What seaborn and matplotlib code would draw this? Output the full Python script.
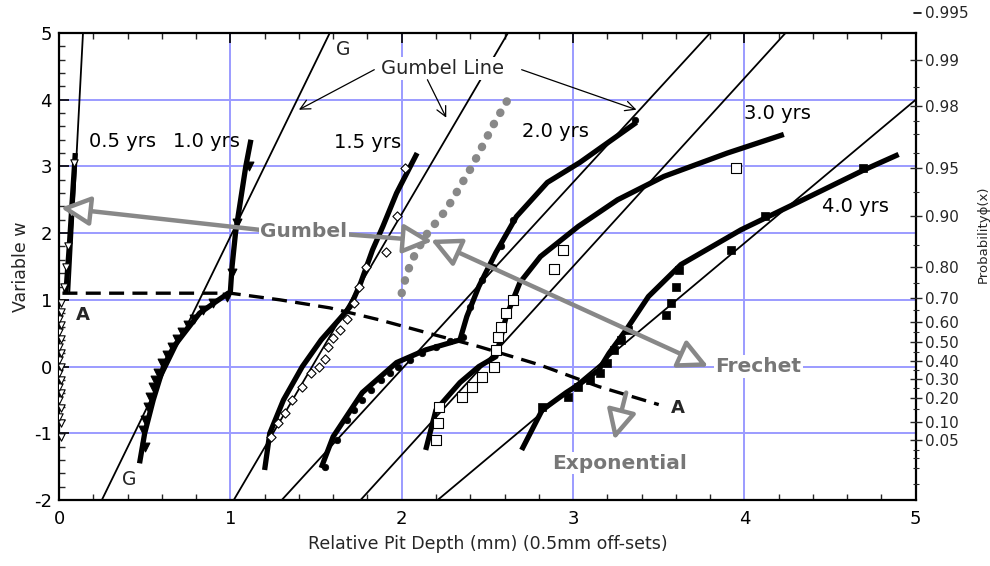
import numpy as np
import pandas as pd
import matplotlib
matplotlib.use("Agg")
import matplotlib.pyplot as plt
import matplotlib.transforms as mtransforms
from matplotlib.ticker import MultipleLocator, FixedLocator
import seaborn as sns

# ---------------- data ----------------
# 0.5 yrs (hollow down-triangles)
x05 = [0.01, 0.01, 0.00, 0.01, 0.00, 0.01, 0.00, 0.01, 0.00, 0.01, 0.00, 0.01,
       0.00, 0.01, 0.00, 0.01, 0.00, 0.01, 0.01, 0.03, 0.04, 0.05, 0.07, 0.09]
y05 = [-1.05, -0.85, -0.75, -0.62, -0.50, -0.40, -0.30, -0.20, -0.10, 0.00, 0.10, 0.20,
       0.30, 0.42, 0.52, 0.62, 0.72, 0.82, 0.95, 1.20, 1.50, 1.80, 2.30, 3.05]
x05c = [0.04, 0.06, 0.08, 0.095]
y05c = [1.10, 1.80, 2.60, 3.20]

# 1.0 yrs (filled down-triangles)
x10 = [0.50, 0.49, 0.50, 0.52, 0.53, 0.55, 0.56, 0.58, 0.60, 0.63, 0.66, 0.69,
       0.72, 0.75, 0.79, 0.84, 0.90, 0.98, 1.01, 1.04, 1.11]
y10 = [-1.20, -0.95, -0.80, -0.60, -0.45, -0.30, -0.20, -0.10, 0.05, 0.18, 0.30, 0.42,
       0.52, 0.62, 0.72, 0.85, 0.95, 1.05, 1.40, 2.15, 3.00]
x10c = [0.47, 0.50, 0.55, 0.61, 0.67, 0.73, 0.82, 0.92, 1.00, 1.01, 1.03, 1.06, 1.09, 1.12]
y10c = [-1.45, -1.00, -0.50, 0.00, 0.30, 0.50, 0.80, 0.98, 1.12, 1.50, 2.00, 2.50, 3.00, 3.40]

# 1.5 yrs (hollow diamonds)
x15 = [1.24, 1.28, 1.32, 1.36, 1.42, 1.47, 1.52, 1.55, 1.57, 1.60, 1.64, 1.68,
       1.72, 1.75, 1.79, 1.91, 1.97, 2.02]
y15 = [-1.05, -0.85, -0.70, -0.50, -0.30, -0.10, 0.00, 0.12, 0.30, 0.43, 0.55, 0.72,
       0.95, 1.20, 1.50, 1.72, 2.25, 2.98]
x15c = [1.20, 1.23, 1.31, 1.42, 1.53, 1.64, 1.70, 1.76, 1.83, 1.89, 1.97, 2.09]
y15c = [-1.55, -1.00, -0.50, 0.00, 0.40, 0.72, 0.90, 1.25, 1.75, 2.10, 2.60, 3.20]

# 2.0 yrs (filled small circles)
x20 = [1.55, 1.62, 1.68, 1.72, 1.77, 1.82, 1.88, 1.93, 1.98, 2.05, 2.12, 2.20,
       2.28, 2.36, 2.40, 2.47, 2.53, 2.58, 2.65, 3.36]
y20 = [-1.50, -1.10, -0.80, -0.65, -0.50, -0.35, -0.20, -0.10, 0.00, 0.10, 0.20, 0.30,
       0.38, 0.45, 0.90, 1.30, 1.50, 1.80, 2.20, 3.70]
x20c = [1.53, 1.60, 1.77, 1.97, 2.14, 2.34, 2.38, 2.45, 2.55, 2.67, 2.85, 3.04, 3.37]
y20c = [-1.52, -1.05, -0.39, 0.06, 0.25, 0.40, 0.75, 1.20, 1.71, 2.25, 2.76, 3.06, 3.66]

# 3.0 yrs (hollow squares)
x30 = [2.20, 2.21, 2.22, 2.35, 2.41, 2.47, 2.54, 2.55, 2.56, 2.58, 2.61, 2.65,
       2.89, 2.94, 3.95]
y30 = [-1.10, -0.85, -0.60, -0.45, -0.30, -0.15, 0.00, 0.25, 0.45, 0.60, 0.80, 1.00,
       1.46, 1.75, 2.98]
x30c = [2.14, 2.20, 2.34, 2.45, 2.55, 2.61, 2.69, 2.81, 3.03, 3.26, 3.53, 3.90, 4.23]
y30c = [-1.25, -0.65, -0.24, 0.00, 0.15, 0.75, 1.26, 1.65, 2.10, 2.50, 2.85, 3.20, 3.48]

# 4.0 yrs (filled squares)
x40 = [2.82, 2.97, 3.03, 3.10, 3.16, 3.20, 3.24, 3.28, 3.32, 3.54, 3.57, 3.60,
       3.62, 3.92, 4.12, 4.69]
y40 = [-0.60, -0.45, -0.30, -0.20, -0.10, 0.05, 0.25, 0.40, 0.55, 0.78, 0.96, 1.20,
       1.45, 1.75, 2.25, 2.98]
x40c = [2.70, 2.82, 2.96, 3.05, 3.15, 3.21, 3.31, 3.44, 3.63, 3.98, 4.31, 4.70, 4.90]
y40c = [-1.25, -0.65, -0.39, -0.24, -0.05, 0.20, 0.55, 1.05, 1.53, 2.05, 2.46, 2.95, 3.18]

# Gumbel straight lines (end points)
gumbel_x = {"0.5": [0.06, 0.14], "1.0": [0.25, 1.58], "1.5": [1.02, 2.62],
            "2.0": [1.30, 3.80], "3.0": [1.76, 4.24], "4.0": [2.21, 5.00]}
gumbel_y = {"0.5": [1.10, 5.00], "1.0": [-2.0, 5.0], "1.5": [-2.0, 5.0],
            "2.0": [-2.0, 5.0], "3.0": [-2.0, 5.0], "4.0": [-2.0, 4.0]}

# dashed line A-A
xA = [0.02, 1.00, 1.29, 1.58, 1.87, 2.20, 2.45, 2.80, 3.15, 3.50]
yA = [1.10, 1.10, 1.00, 0.88, 0.70, 0.47, 0.30, 0.03, -0.30, -0.57]

# grey dotted line
xdot = [2.00, 2.03, 2.08, 2.15, 2.26, 2.41, 2.53, 2.63]
ydot = [1.10, 1.40, 1.70, 2.00, 2.35, 3.00, 3.60, 4.05]

# right-axis probability labels
prob_labels = ["0.99", "0.98", "0.95", "0.90", "0.80", "0.70", "0.60", "0.50",
               "0.40", "0.30", "0.20", "0.10", "0.05"]
prob_minor = [0.003, 0.01, 0.02, 0.03, 0.15, 0.25, 0.35, 0.45, 0.55, 0.65, 0.75,
              0.85, 0.93, 0.96, 0.97, 0.975, 0.985]

# ---------------- style ----------------
sns.set_theme(style="white")
plt.rcParams["font.family"] = ["DejaVu Sans"]
plt.rcParams["axes.unicode_minus"] = False

fig, ax = plt.subplots(figsize=(9.9, 5.66), dpi=100)
fig.subplots_adjust(left=0.0596, right=0.925, top=0.9417, bottom=0.1166)
ax.set_xlim(0, 5)
ax.set_ylim(-2, 5)

GRID = "#9b9bff"
GREY = "#888888"

ax.xaxis.set_major_locator(MultipleLocator(1))
ax.yaxis.set_major_locator(MultipleLocator(1))
ax.xaxis.set_minor_locator(MultipleLocator(0.2))
ax.yaxis.set_minor_locator(MultipleLocator(0.2))
ax.grid(True, which="major", color=GRID, lw=1.4, zorder=0)
ax.set_axisbelow(True)
for s in ax.spines.values():
    s.set_color("black")
    s.set_linewidth(1.6)
ax.tick_params(axis="both", which="major", direction="in", length=7, width=1.2,
               labelsize=13, colors="black", top=True, pad=7)
ax.tick_params(axis="y", which="major", pad=5)
ax.tick_params(axis="both", which="minor", direction="in", length=4, width=1.0,
               top=True, bottom=True, left=True)
ax.set_xlabel("Relative Pit Depth (mm) (0.5mm off-sets)", fontsize=12.5, labelpad=5)
ax.set_ylabel("Variable w", fontsize=12.5, labelpad=3)

# Gumbel lines
for k in gumbel_x:
    sns.lineplot(x=gumbel_x[k], y=gumbel_y[k], sort=False, estimator=None,
                 color="black", lw=1.3, ax=ax, zorder=3)

# fitted thick curves
for cx, cy in [(x05c, y05c), (x10c, y10c), (x15c, y15c), (x20c, y20c),
               (x30c, y30c), (x40c, y40c)]:
    sns.lineplot(x=cx, y=cy, sort=False, estimator=None, color="black", lw=3.8,
                 ax=ax, zorder=4, solid_joinstyle="round", solid_capstyle="butt")

# dashed A line
sns.lineplot(x=xA, y=yA, sort=False, estimator=None, color="black", lw=2.4,
             ax=ax, zorder=4, dashes=False, linestyle=(0, (4.5, 2.5)))

# grey dotted line
sns.lineplot(x=xdot, y=ydot, sort=False, estimator=None, color=GREY, lw=6,
             ax=ax, zorder=4, linestyle=(0, (0.05, 1.5)), dash_capstyle="round")

# markers
sns.scatterplot(x=x05, y=y05, marker="v", s=28, facecolor="white",
                edgecolor="black", linewidth=0.8, ax=ax, zorder=5)
sns.scatterplot(x=x10, y=y10, marker="v", s=40, color="black",
                edgecolor="black", linewidth=0.8, ax=ax, zorder=5)
sns.scatterplot(x=x15, y=y15, marker="D", s=22, facecolor="white",
                edgecolor="black", linewidth=0.8, ax=ax, zorder=5)
sns.scatterplot(x=x20, y=y20, marker="o", s=22, color="black",
                edgecolor="black", linewidth=0.5, ax=ax, zorder=5)
sns.scatterplot(x=x30, y=y30, marker="s", s=50, facecolor="white",
                edgecolor="black", linewidth=0.8, ax=ax, zorder=5)
sns.scatterplot(x=x40, y=y40, marker="s", s=40, color="black",
                edgecolor="black", linewidth=0.5, ax=ax, zorder=5)

# black labels
lab_kw = dict(fontsize=14, color="black", ha="center", va="center", zorder=8)
ax.text(0.37, 3.37, "0.5 yrs", **lab_kw)
ax.text(0.86, 3.37, "1.0 yrs", **lab_kw)
ax.text(1.80, 3.36, "1.5 yrs", **lab_kw)
ax.text(2.90, 3.53, "2.0 yrs", **lab_kw)
ax.text(4.19, 3.80, "3.0 yrs", **lab_kw)
ax.text(4.65, 2.40, "4.0 yrs", **lab_kw)
ax.text(1.66, 4.75, "G", fontsize=13.5, ha="center", va="center", zorder=8)
ax.text(0.41, -1.70, "G", fontsize=13.5, ha="center", va="center", zorder=8)
ax.text(0.14, 0.78, "A", fontsize=13, fontweight="bold", ha="center", va="center", zorder=8)
ax.text(3.61, -0.62, "A", fontsize=13, fontweight="bold", ha="center", va="center", zorder=8)

# "Gumbel Line" with thin arrows
ax.text(2.24, 4.47, "Gumbel Line", fontsize=14, ha="center", va="center", zorder=9,
        bbox=dict(boxstyle="square,pad=0.12", fc="white", ec="none"))
thin = dict(arrowstyle="->,head_length=0.5,head_width=0.25", lw=0.9, color="black",
            shrinkA=0, shrinkB=0, mutation_scale=14)
ax.annotate("", xy=(1.40, 3.85), xytext=(1.84, 4.45), arrowprops=thin, zorder=9)
ax.annotate("", xy=(2.26, 3.73), xytext=(2.15, 4.30), arrowprops=thin, zorder=9)
ax.annotate("", xy=(3.37, 3.85), xytext=(2.70, 4.45), arrowprops=thin, zorder=9)

# grey annotations
gtxt = dict(fontsize=14.5, fontweight="bold", color="#777777", va="center", zorder=10,
            bbox=dict(boxstyle="square,pad=0.08", fc="white", ec="none"))
ax.text(1.43, 2.02, "Gumbel", ha="center", **gtxt)
ax.text(3.83, 0.0, "Frechet", ha="left", **gtxt)
ax.text(3.27, -1.45, "Exponential", ha="center", **gtxt)

garrow = dict(arrowstyle="-|>,head_length=0.9,head_width=0.45", lw=3.2, ec=GREY,
              fc="white", shrinkA=0, shrinkB=0, mutation_scale=20)
ax.annotate("", xy=(0.01, 2.38), xytext=(1.17, 2.05), arrowprops=garrow, zorder=9)
ax.annotate("", xy=(2.18, 1.88), xytext=(1.69, 1.98), arrowprops=garrow, zorder=9)
garrow2 = dict(garrow)
garrow2["arrowstyle"] = "<|-|>,head_length=0.9,head_width=0.45"
ax.annotate("", xy=(3.79, 0.0), xytext=(2.17, 1.90), arrowprops=garrow2, zorder=9)
ax.annotate("", xy=(3.24, -1.10), xytext=(3.31, -0.39), arrowprops=garrow, zorder=9)

# ---------------- right probability axis ----------------
ax2 = ax.twinx()
ax2.set_ylim(-2, 5)
ax2.grid(False)
probs = [float(p) for p in prob_labels]
ax2.yaxis.set_major_locator(FixedLocator([-np.log(-np.log(p)) for p in probs]))
ax2.set_yticklabels(prob_labels)
ax2.yaxis.set_minor_locator(FixedLocator([-np.log(-np.log(p)) for p in prob_minor]))
ax2.tick_params(axis="y", which="major", direction="inout", length=9, width=1.0,
                labelsize=11, pad=2)
ax2.tick_params(axis="y", which="minor", direction="inout", length=5, width=0.8)
for s in ax2.spines.values():
    s.set_visible(False)
ax2.set_ylabel("Probabilityϕ(x)", fontsize=9.5)
ax2.yaxis.set_label_coords(1.071, 0.57)

# 0.995 label above the top of the axes
trans = mtransforms.blended_transform_factory(ax2.transAxes, ax2.transData)
w995 = -np.log(-np.log(0.995))
ax2.plot([0.9985, 1.006], [w995, w995], color="black", lw=1.2, transform=trans,
         clip_on=False)
ax2.text(1.0105, w995, "0.995", transform=trans, fontsize=11, va="center",
         ha="left")

fig.savefig("out.png", dpi=100)
